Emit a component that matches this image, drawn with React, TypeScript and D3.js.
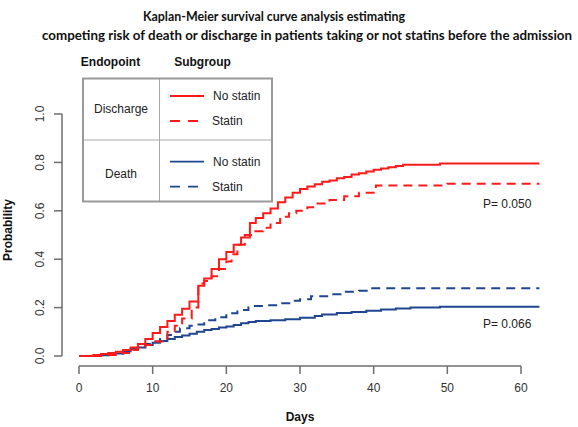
import React from "react";
import * as d3 from "d3";

// ---- data (days, cumulative probability) ----
const dischargeNoStatinT = [0, 2, 3, 4, 5, 6, 7, 8, 9, 10, 11, 12, 13, 14, 15, 16.2, 17, 18, 19, 20, 21, 22, 23.2, 24, 25, 26, 27, 28, 29, 30, 31, 32, 33, 34, 35, 36, 37, 38, 39, 40, 41, 42, 43, 44, 49, 62.5];
const dischargeNoStatinP = [0, 0.004, 0.008, 0.012, 0.018, 0.025, 0.035, 0.05, 0.07, 0.095, 0.12, 0.145, 0.17, 0.195, 0.225, 0.29, 0.32, 0.36, 0.4, 0.43, 0.46, 0.49, 0.55, 0.57, 0.59, 0.61, 0.635, 0.655, 0.675, 0.69, 0.7, 0.71, 0.72, 0.725, 0.735, 0.74, 0.75, 0.755, 0.762, 0.77, 0.775, 0.78, 0.785, 0.79, 0.795, 0.795];

const dischargeStatinT = [0, 3, 5, 7, 8, 9, 10, 12, 13, 14, 15.3, 16.2, 17, 18, 19, 20, 20.7, 21.5, 22.5, 23.5, 25, 26, 27.3, 28.5, 29.5, 31, 32, 34, 36, 38, 40.3, 50, 62.5];
const dischargeStatinP = [0, 0.004, 0.012, 0.025, 0.035, 0.045, 0.06, 0.1, 0.125, 0.155, 0.2, 0.3, 0.31, 0.33, 0.36, 0.39, 0.42, 0.46, 0.5, 0.515, 0.53, 0.55, 0.575, 0.59, 0.6, 0.615, 0.63, 0.645, 0.66, 0.675, 0.705, 0.712, 0.712];

const deathNoStatinT = [0, 2, 4, 6, 7, 8, 9, 10, 11, 12, 13, 14, 15, 16, 17, 18, 19, 20, 21, 22, 23, 24, 26, 28, 30, 32, 33, 35, 37, 39, 41, 43, 45, 49, 62.5];
const deathNoStatinP = [0, 0.003, 0.01, 0.02, 0.028, 0.035, 0.045, 0.055, 0.062, 0.07, 0.078, 0.085, 0.092, 0.1, 0.107, 0.112, 0.118, 0.122, 0.128, 0.135, 0.14, 0.145, 0.148, 0.152, 0.158, 0.165, 0.172, 0.178, 0.182, 0.187, 0.192, 0.196, 0.2, 0.203, 0.203];

const deathStatinT = [0, 2, 4, 6, 7, 8, 9, 10, 11, 12, 13, 13.7, 15, 15.5, 17, 18.5, 20, 21.5, 23, 25, 27, 29, 30, 31.5, 34, 35.5, 38, 39.5, 62.5];
const deathStatinP = [0, 0.003, 0.01, 0.02, 0.028, 0.038, 0.05, 0.06, 0.07, 0.087, 0.1, 0.115, 0.125, 0.13, 0.148, 0.16, 0.177, 0.19, 0.207, 0.21, 0.218, 0.228, 0.235, 0.247, 0.255, 0.265, 0.27, 0.28, 0.28];

const xTicks = [0, 10, 20, 30, 40, 50, 60];
const yTicks = [0, 0.2, 0.4, 0.6, 0.8, 1.0];

const titleLines = [
  "Kaplan-Meier survival curve analysis estimating",
  "competing risk of death or discharge in patients taking or not statins before the admission",
];
const pValues = ["P= 0.050", "P= 0.066"];

const RED = "#ff1a1a";
const BLUE = "#1f4690";

export default function App() {
  const W = 578, H = 427;
  const x = d3.scaleLinear().domain([0, 60]).range([79, 521]);
  const y = d3.scaleLinear().domain([0, 1]).range([356, 114]);

  const line = d3
    .line<[number, number]>()
    .x((d) => x(d[0]))
    .y((d) => y(d[1]))
    .curve(d3.curveStepAfter);

  const zip = (t: number[], p: number[]) => t.map((v, i) => [v, p[i]] as [number, number]);

  const series = [
    { d: zip(deathNoStatinT, deathNoStatinP), c: BLUE, dash: undefined },
    { d: zip(deathStatinT, deathStatinP), c: BLUE, dash: "9 6" },
    { d: zip(dischargeStatinT, dischargeStatinP), c: RED, dash: "9 6" },
    { d: zip(dischargeNoStatinT, dischargeNoStatinP), c: RED, dash: undefined },
  ];

  const axisColor = "#6e6e6e";
  const font = "'Liberation Sans', Arial, sans-serif";

  return (
    <svg width={W} height={H} style={{ position: "absolute", left: 0, top: 0, background: "#fff" }}>
      <rect x={0} y={0} width={W} height={H} fill="#fff" />
      {/* title */}
      <text x={274} y={21} textAnchor="middle" fontFamily="Lato, 'Open Sans', sans-serif" fontWeight="bold" fontSize={14} textLength={262} lengthAdjust="spacingAndGlyphs" fill="#111">
        {titleLines[0]}
      </text>
      <text x={42} y={40} fontFamily="Lato, 'Open Sans', sans-serif" fontWeight="bold" fontSize={13.2} textLength={530} lengthAdjust="spacingAndGlyphs" fill="#111">
        {titleLines[1]}
      </text>

      {/* y axis */}
      <line x1={62} x2={62} y1={y(1)} y2={y(0)} stroke={axisColor} strokeWidth={1.5} />
      {yTicks.map((t) => (
        <g key={t}>
          <line x1={54} x2={62} y1={y(t)} y2={y(t)} stroke={axisColor} strokeWidth={1.5} />
          <text transform={`translate(44,${y(t)}) rotate(-90)`} textAnchor="middle" fontFamily={font} fontSize={12} fill="#333">
            {t.toFixed(1)}
          </text>
        </g>
      ))}
      <text transform={`translate(12,230) rotate(-90)`} textAnchor="middle" fontFamily={font} fontWeight="bold" fontSize={12} fill="#111">
        Probability
      </text>

      {/* x axis */}
      <line x1={x(0)} x2={x(60)} y1={366} y2={366} stroke={axisColor} strokeWidth={1.5} />
      {xTicks.map((t) => (
        <g key={t}>
          <line x1={x(t)} x2={x(t)} y1={366} y2={374} stroke={axisColor} strokeWidth={1.5} />
          <text x={x(t)} y={392} textAnchor="middle" fontFamily={font} fontSize={12} fill="#333">
            {t}
          </text>
        </g>
      ))}
      <text x={300} y={421} textAnchor="middle" fontFamily={font} fontWeight="bold" fontSize={12} fill="#111">
        Days
      </text>

      {/* curves */}
      {series.map((s, i) => (
        <path key={i} d={line(s.d) || ""} fill="none" stroke={s.c} strokeWidth={2} strokeDasharray={s.dash} />
      ))}

      {/* p values */}
      <text x={483} y={208} fontFamily={font} fontSize={12} fill="#222">{pValues[0]}</text>
      <text x={483} y={328} fontFamily={font} fontSize={12} fill="#222">{pValues[1]}</text>

      {/* legend */}
      <text x={110.5} y={66} textAnchor="middle" fontFamily={font} fontWeight="bold" fontSize={12} fill="#111">Endopoint</text>
      <text x={202.5} y={66} textAnchor="middle" fontFamily={font} fontWeight="bold" fontSize={12} fill="#111">Subgroup</text>
      <line x1={159.5} x2={159.5} y1={79} y2={201} stroke="#aaa" strokeWidth={1} />
      <line x1={83} x2={272} y1={140} y2={140} stroke="#aaa" strokeWidth={1} />
      <rect x={83} y={78.5} width={189} height={123} fill="none" stroke="#999" strokeWidth={2} />
      <text x={121} y={112.5} textAnchor="middle" fontFamily={font} fontSize={12} fill="#222">Discharge</text>
      <text x={121} y={178} textAnchor="middle" fontFamily={font} fontSize={12} fill="#222">Death</text>
      <line x1={170} x2={204} y1={96} y2={96} stroke={RED} strokeWidth={1.8} />
      <line x1={170} x2={204} y1={121} y2={121} stroke={RED} strokeWidth={1.8} strokeDasharray="10 8" />
      <line x1={170} x2={204} y1={161.7} y2={161.7} stroke={BLUE} strokeWidth={1.8} />
      <line x1={170} x2={204} y1={186.7} y2={186.7} stroke={BLUE} strokeWidth={1.8} strokeDasharray="10 8" />
      <text x={213} y={100} fontFamily={font} fontSize={12} fill="#222">No statin</text>
      <text x={212} y={125} fontFamily={font} fontSize={12} fill="#222">Statin</text>
      <text x={213} y={166} fontFamily={font} fontSize={12} fill="#222">No statin</text>
      <text x={212} y={191} fontFamily={font} fontSize={12} fill="#222">Statin</text>
    </svg>
  );
}
